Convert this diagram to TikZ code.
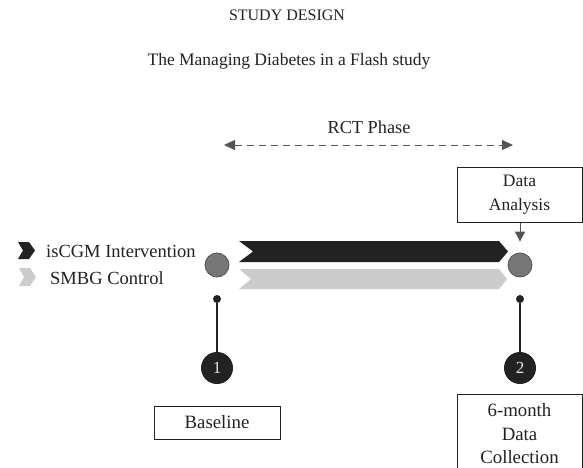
\documentclass[tikz,border=0pt]{standalone}
\usepackage{fontspec}
\setmainfont{Liberation Serif}
\usetikzlibrary{arrows.meta}
\definecolor{ink}{HTML}{222222}
\definecolor{dotgray}{HTML}{777777}
\definecolor{arrgray}{HTML}{555555}
\definecolor{lightbar}{HTML}{CCCCCC}
\begin{document}
\begin{tikzpicture}[x=1pt,y=-1pt,
  txt/.style={font=\fontsize{18.5}{21}\selectfont, text=ink, inner sep=0pt},
  box/.style={draw=ink, line width=1pt, fill=white, align=center, text=ink,
    font=\fontsize{18.8}{23.5}\selectfont, inner sep=0pt},
  bigdot/.style={circle, fill=dotgray, draw=arrgray, line width=0.8pt, minimum size=24pt, inner sep=0pt},
  pindot/.style={circle, fill=ink, minimum size=8pt, inner sep=0pt},
  numdot/.style={circle, fill=ink, minimum size=32pt, inner sep=0pt, text=black!10,
    font=\fontsize{17}{20}\selectfont},
  tipline/.style={arrgray, line width=1pt, -{Triangle[length=10pt,width=10pt]}},
  pinline/.style={ink, line width=1.2pt}
]
\useasboundingbox (0,0) rectangle (583,468);
\fill[white] (0,0) rectangle (583,468);

% titles
\node[txt, font=\fontsize{16}{20}\selectfont, anchor=base] (title1) at (287,21) {STUDY DESIGN};
\node[txt, font=\fontsize{17.5}{21}\selectfont, anchor=base] (title2) at (289,66) {The Managing Diabetes in a Flash study};

% RCT phase
\node[txt, font=\fontsize{18.3}{21}\selectfont, anchor=base] (rct) at (369,133) {RCT Phase};
\coordinate (rctL) at (224,145);
\coordinate (rctR) at (513,145);
\draw[arrgray, line width=1pt, dash pattern=on 7pt off 5pt,
  {Triangle[length=11pt,width=10pt]}-{Triangle[length=11pt,width=10pt]}] (rctL) -- (rctR);

% legend
\fill[ink] (18,242) -- (29,242) -- (35,250.5) -- (29,259) -- (18,259) -- (23,250.5) -- cycle;
\fill[lightbar] (19,268) -- (30,268) -- (36,277) -- (30,286) -- (19,286) -- (24,277) -- cycle;
\node[txt, anchor=base west] (leg1) at (46,257) {isCGM Intervention};
\node[txt, anchor=base west] (leg2) at (50,284) {SMBG Control};

% bars
\fill[ink] (239,241) -- (499,241) -- (508,251.5) -- (499,262) -- (239,262) -- (253,251.5) -- cycle;
\fill[lightbar] (239,269) -- (499,269) -- (507,279) -- (499,289) -- (239,289) -- (251,279) -- cycle;

% time points
\node[bigdot] (ldot) at (217,265) {};
\node[bigdot] (rdot) at (520,265) {};

% data analysis
\node[box, font=\fontsize{17.5}{24}\selectfont, minimum width=125pt, minimum height=55pt] (da) at (519.5,194.5) {Data\\Analysis};
\draw[tipline] (da.south -| rdot) -- ([yshift=11pt]rdot.north);

% pins and numbers
\node[pindot] (lpin) at (217,299) {};
\node[pindot] (rpin) at (520,299) {};
\node[numdot] (n1) at (217,368) {1};
\node[numdot] (n2) at (520,368) {2};
\draw[pinline] (lpin) -- (n1);
\draw[pinline] (rpin) -- (n2);

% bottom boxes
\node[box, minimum width=126pt, minimum height=33pt] (base) at (217,422.5) {Baseline};
\node[box, minimum width=125pt, minimum height=80pt] (six) at (519.5,434) {6-month\\Data\\Collection};
\end{tikzpicture}
\end{document}
